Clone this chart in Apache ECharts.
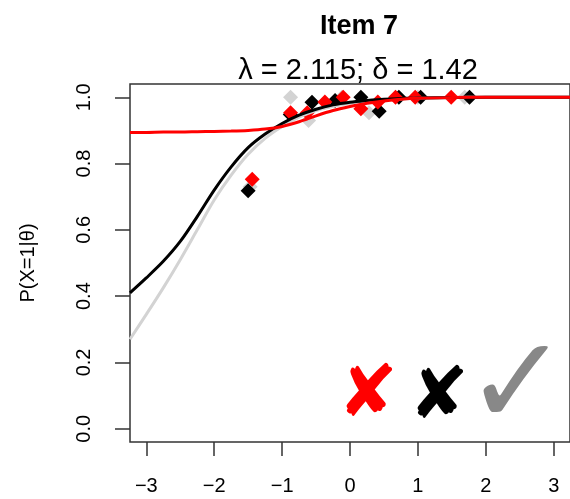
<!DOCTYPE html>
<html>
<head>
<meta charset="utf-8">
<script src="https://cdn.jsdelivr.net/npm/echarts@6/dist/echarts.min.js"></script>
<style>
html, body { margin: 0; padding: 0; background: #ffffff; }
#chart { width: 570px; height: 499px; }
</style>
</head>
<body>
<div id="chart"></div>
<script>
// tick labels
const xTicks = [-3, -2, -1, 0, 1, 2, 3];
const yTicks = [0, 0.2, 0.4, 0.6, 0.8, 1.0];

// curves, on a common theta grid
const theta = [-3.24, -3, -2.75, -2.5, -2.25, -2, -1.75, -1.5, -1.25, -1, -0.75, -0.5, -0.25, 0, 0.25, 0.5, 0.75, 1, 1.5, 2, 2.5, 3, 3.24];
const grayCurve  = [0.27, 0.345, 0.425, 0.51, 0.6, 0.69, 0.765, 0.828, 0.876, 0.912, 0.94, 0.96, 0.973, 0.982, 0.988, 0.992, 0.995, 0.997, 0.999, 1, 1, 1, 1];
const blackCurve = [0.41, 0.455, 0.505, 0.565, 0.64, 0.72, 0.79, 0.848, 0.889, 0.921, 0.946, 0.964, 0.977, 0.985, 0.99, 0.994, 0.996, 0.998, 0.999, 1, 1, 1, 1];
const redCurve   = [0.894, 0.894, 0.895, 0.895, 0.896, 0.897, 0.898, 0.9, 0.904, 0.912, 0.926, 0.944, 0.96, 0.972, 0.982, 0.989, 0.994, 0.997, 0.999, 1, 1, 1, 1];

// observed points (theta, proportion)
const grayPts  = [[-1.47, 0.73], [-0.875, 1.0], [-0.61, 0.93], [-0.12, 1.0], [0.28, 0.953], [1.0, 1.0], [1.69, 1.0]];
const blackPts = [[-1.5, 0.718], [-0.88, 0.948], [-0.56, 0.985], [-0.22, 0.99], [0.16, 1.0], [0.43, 0.958], [0.72, 1.0], [1.04, 1.0], [1.76, 1.0]];
const redPts   = [[-1.44, 0.753], [-0.875, 0.953], [-0.63, 0.953], [-0.37, 0.986], [-0.1, 1.0], [0.16, 0.965], [0.41, 0.986], [0.67, 1.0], [0.96, 1.0], [1.49, 1.0]];

const pair = (ys) => theta.map((t, i) => [t, ys[i]]);
const font = "'Liberation Sans', Arial, sans-serif";

var chart = echarts.init(document.getElementById("chart"));
chart.setOption({
  animation: false,
  backgroundColor: "#ffffff",
  title: [
    {
      text: "Item 7",
      left: 354, top: 8, textAlign: "center",
      textStyle: { fontFamily: font, fontSize: 27, fontWeight: "bold", color: "#000" }
    },
    {
      text: "λ = 2.115; δ = 1.42",
      left: 353, top: 51, textAlign: "center",
      textStyle: { fontFamily: font, fontSize: 29, fontWeight: "normal", color: "#000" }
    }
  ],
  grid: {
    left: 130, top: 84, right: -7, bottom: 57,
    show: true, borderColor: "#333", borderWidth: 1.5, backgroundColor: "transparent"
  },
  xAxis: {
    type: "value", min: -3.24, max: 3.24,
    axisLine: { show: false, onZero: false },
    splitLine: { show: false },
    axisTick: { show: true, customValues: xTicks, length: 14, lineStyle: { color: "#333", width: 1.5 } },
    axisLabel: {
      customValues: xTicks, margin: 34, fontFamily: font, fontSize: 20, color: "#000",
      formatter: (v) => (v < 0 ? "\u2212" + Math.abs(v) : String(v))
    }
  },
  yAxis: {
    type: "value", min: -0.04, max: 1.04,
    name: "P(X=1|θ)", nameLocation: "middle", nameRotate: 90, nameGap: 92,
    nameTextStyle: { fontFamily: font, fontSize: 20, color: "#000" },
    axisLine: { show: false, onZero: false },
    splitLine: { show: false },
    axisTick: { show: true, customValues: yTicks, length: 15, lineStyle: { color: "#333", width: 1.5 } },
    axisLabel: {
      customValues: yTicks, rotate: 90, margin: 36, fontFamily: font, fontSize: 20, color: "#000",
      formatter: (v) => v.toFixed(1)
    }
  },
  graphic: [
    { type: "text", x: 368, y: 397, style: { text: "✘", fontSize: 72, fontFamily: "DejaVu Sans", fill: "#ff0000", align: "center", verticalAlign: "middle" } },
    { type: "text", x: 439, y: 399, style: { text: "✘", fontSize: 72, fontFamily: "DejaVu Sans", fill: "#000000", align: "center", verticalAlign: "middle" } },
    { type: "text", x: 517, y: 392, style: { text: "✓", fontSize: 124, fontFamily: "DejaVu Sans", fill: "#888888", align: "center", verticalAlign: "middle" } }
  ],
  series: [
    { type: "line", data: pair(grayCurve), smooth: 0.3, showSymbol: false, lineStyle: { color: "#d3d3d3", width: 3 } },
    { type: "line", data: pair(blackCurve), smooth: 0.3, showSymbol: false, lineStyle: { color: "#000000", width: 3 } },
    { type: "scatter", data: grayPts, symbol: "diamond", symbolSize: 15, itemStyle: { color: "#d3d3d3", opacity: 1 } },
    { type: "scatter", data: blackPts, symbol: "diamond", symbolSize: 15, itemStyle: { color: "#000000", opacity: 1 } },
    { type: "scatter", data: redPts, symbol: "diamond", symbolSize: 15, itemStyle: { color: "#ff0000", opacity: 1 } },
    { type: "line", data: pair(redCurve), smooth: 0.3, showSymbol: false, lineStyle: { color: "#ff0000", width: 3 } }
  ]
});
</script>
</body>
</html>
